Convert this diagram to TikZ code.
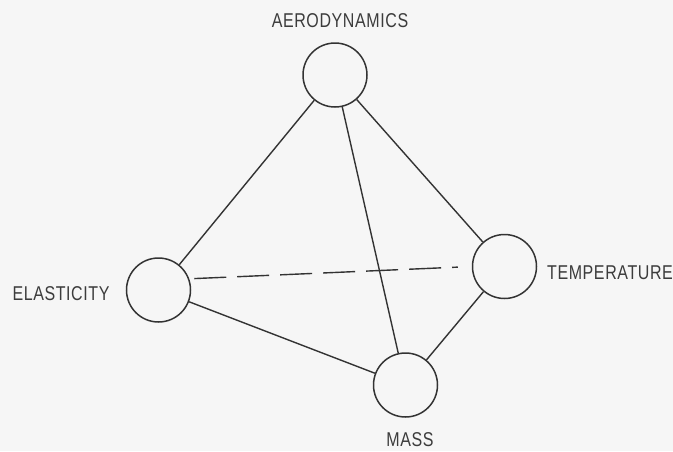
\documentclass[tikz,border=0pt]{standalone}
\usepackage{fontspec}
\setmainfont{Liberation Sans}[FakeStretch=0.8,LetterSpace=3]
\definecolor{ink}{HTML}{333333}
\definecolor{txt}{HTML}{3C3C3C}
\definecolor{paper}{HTML}{F6F6F6}
\begin{document}
\begin{tikzpicture}[x=1pt,y=-1pt,
  ball/.style={circle,draw=ink,line width=1.5pt,minimum size=64pt,inner sep=0pt},
  lbl/.style={text=txt,font=\fontsize{20}{20}\selectfont,inner sep=0pt},
  edge/.style={draw=ink,line width=1.4pt},
  hidden/.style={edge,dash pattern=on 32pt off 11pt}]
\fill[paper] (0,0) rectangle (673,451);
\useasboundingbox (0,0) rectangle (673,451);
\node[ball] (ae) at (335,75) {};
\node[ball] (el) at (158.5,290) {};
\node[ball] (te) at (504.5,266.5) {};
\node[ball] (ma) at (405.5,385) {};
\node[lbl] (tae) at (340,21) {AERODYNAMICS};
\node[lbl] (tel) at (61,293.5) {ELASTICITY};
\node[lbl] (tte) at (610,272.5) {TEMPERATURE};
\node[lbl] (tma) at (410,439.5) {MASS};
\draw[edge] (ae) -- (el);
\draw[edge] (ae) -- (ma);
\draw[edge] (ae) -- (te);
\draw[edge] (el) -- (ma);
\draw[edge] (te) -- (ma);
\draw[hidden,shorten <=5pt,shorten >=14pt] (el.20) -- (te.west);
\end{tikzpicture}
\end{document}
